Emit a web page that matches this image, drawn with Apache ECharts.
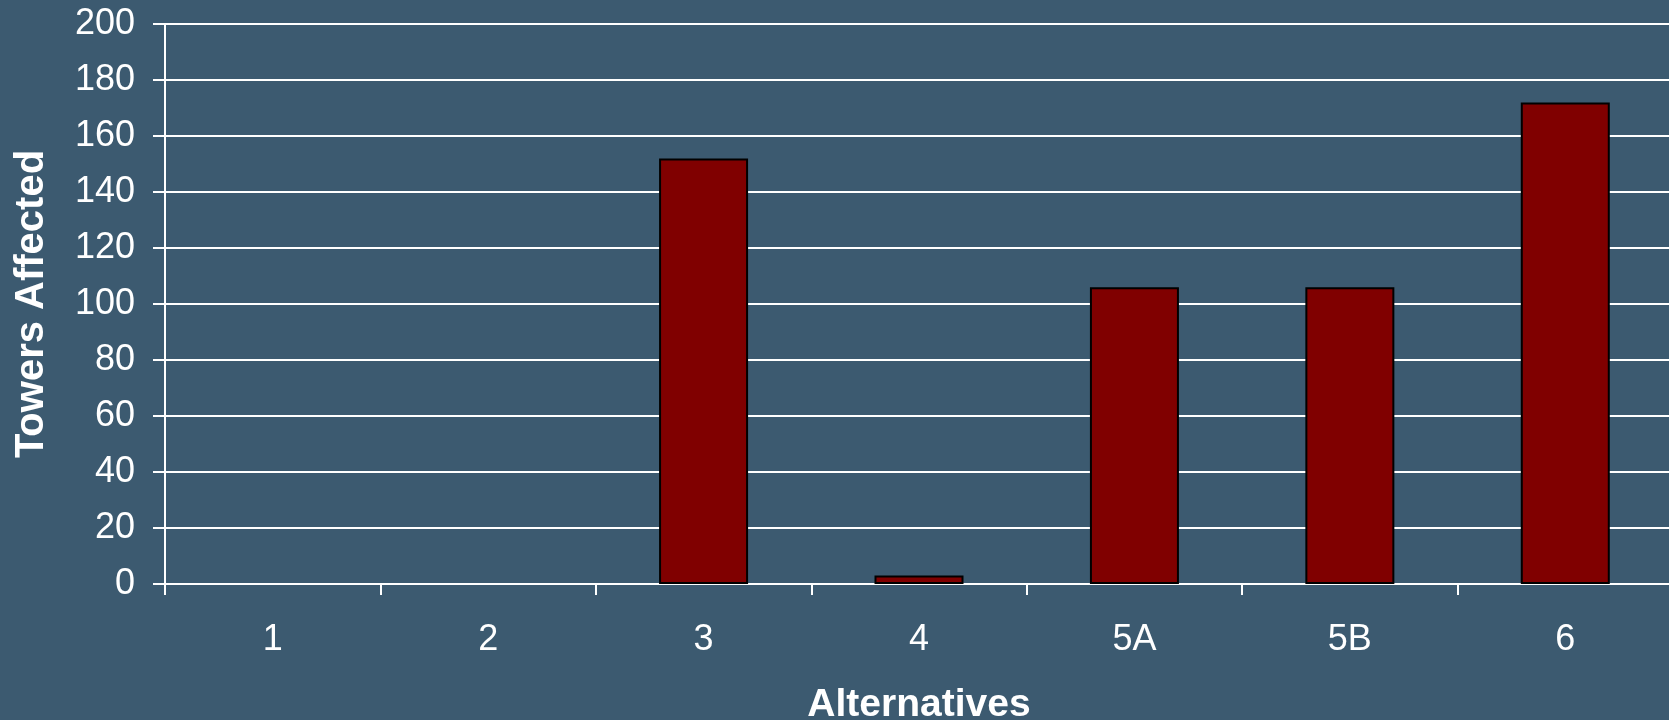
<!DOCTYPE html>
<html>
<head>
<meta charset="utf-8">
<script src="https://cdn.jsdelivr.net/npm/echarts@6/dist/echarts.min.js"></script>
<style>
  html, body { margin: 0; padding: 0; background: #3c5a70; }
  #chart { width: 1669px; height: 720px; }
</style>
</head>
<body>
<div id="chart"></div>
<script>
// Towers affected per route alternative
const alternatives = ['1', '2', '3', '4', '5A', '5B', '6'];
const towersAffected = [0, 0, 152, 3, 106, 106, 172];
const yTicks = { min: 0, max: 200, interval: 20 };

const chart = echarts.init(document.getElementById('chart'));
const font = '"Liberation Sans", Arial, sans-serif';

// zero-height bars are left without an outline
const barData = towersAffected.map(v => ({
  value: v,
  itemStyle: { borderWidth: v === 0 ? 0 : 2 }
}));

chart.setOption({
  backgroundColor: '#3c5a70',
  animation: false,
  grid: {
    left: 165, right: -4, top: 24, bottom: 136,
    containLabel: false,
    outerBoundsMode: 'none'
  },
  xAxis: {
    type: 'category',
    data: alternatives,
    name: 'Alternatives',
    nameLocation: 'middle',
    nameGap: 102,
    nameTextStyle: { color: '#ffffff', fontSize: 39, fontWeight: 'bold', fontFamily: font },
    axisLine: { lineStyle: { color: '#ffffff', width: 2 } },
    axisTick: { show: true, length: 11, lineStyle: { color: '#ffffff', width: 2 } },
    axisLabel: { color: '#ffffff', fontSize: 36, fontFamily: font, margin: 38 },
    splitLine: { show: false }
  },
  yAxis: {
    type: 'value',
    min: yTicks.min,
    max: yTicks.max,
    interval: yTicks.interval,
    name: 'Towers Affected',
    nameLocation: 'middle',
    nameGap: 113,
    nameRotate: 90,
    nameTextStyle: { color: '#ffffff', fontSize: 40, fontWeight: 'bold', fontFamily: font },
    axisLine: { show: true, lineStyle: { color: '#ffffff', width: 2 } },
    axisTick: { show: true, length: 12, lineStyle: { color: '#ffffff', width: 2 } },
    axisLabel: { color: '#ffffff', fontSize: 36, fontFamily: font, margin: 30 },
    splitLine: { show: true, lineStyle: { color: '#ffffff', width: 2 } }
  },
  series: [{
    type: 'bar',
    data: barData,
    barWidth: 89,
    itemStyle: { color: '#800000', borderColor: '#000000', borderWidth: 2 }
  }]
});
</script>
</body>
</html>
